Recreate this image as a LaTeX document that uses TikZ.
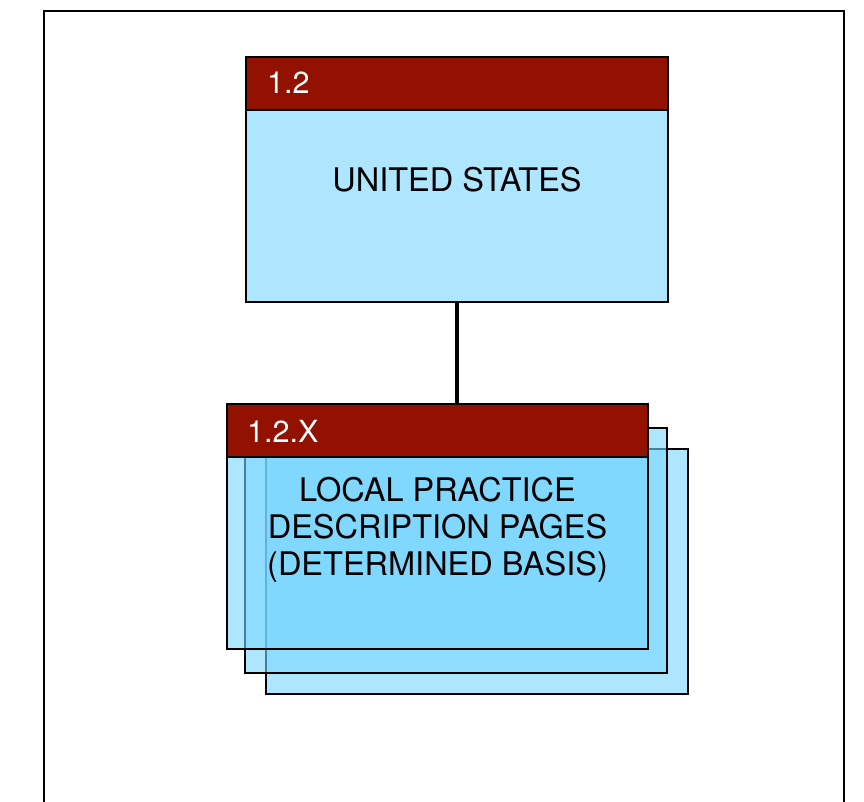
\documentclass[tikz,border=0pt]{standalone}
\usepackage{fontspec}
\setmainfont{TeX Gyre Heros}
\definecolor{hdrred}{RGB}{147,17,0}
\definecolor{boxblue}{RGB}{174,230,255}
\definecolor{layerblue}{RGB}{120,213,255}
\begin{document}
\begin{tikzpicture}[x=1pt,y=-1pt,
  boxbody/.style={draw=black,line width=2.4pt,inner sep=0pt,outer sep=0pt,
    anchor=north west,minimum width=#1,rectangle},
  hdr/.style={draw=black,line width=2.4pt,fill=hdrred,inner sep=0pt,outer sep=0pt,
    anchor=north west,minimum width=#1,minimum height=53pt,rectangle},
  hdrtxt/.style={text=white,font=\fontsize{30.5}{36}\selectfont,inner sep=0pt,anchor=base west},
  bodytxt/.style={text=black,font=\fontsize{32.5}{37.2}\selectfont,inner sep=0pt,align=center},
  link/.style={draw=black,line width=3.5pt}
]
\useasboundingbox (0,0) rectangle (864,801);
% outer frame
\draw[line width=2.4pt] (44,820) -- (44,11) -- (844,11) -- (844,820);

% top box
\node[boxbody=422pt,minimum height=245pt,fill=boxblue] (us) at (246,57) {};
\node[hdr=422pt] (ushead) at (246,57) {};
\node[hdrtxt] (usnum) at (267,93) {1.2};
\node[bodytxt,anchor=base] (ustxt) at (457,191) {UNITED STATES};

% stacked pages
\node[boxbody=422pt,minimum height=245pt,fill=layerblue,fill opacity=0.6] (back2) at (266,449) {};
\node[boxbody=422pt,minimum height=245pt,fill=layerblue,fill opacity=0.6] (back1) at (245,428) {};
\node[boxbody=421pt,minimum height=245pt,fill=layerblue,fill opacity=0.6] (front) at (227,404) {};
\node[hdr=421pt] (fronthead) at (227,404) {};
\node[hdrtxt] (frontnum) at (247,442) {1.2.X};
\node[bodytxt,anchor=center] (fronttxt) at (437.5,530) {LOCAL PRACTICE\\DESCRIPTION PAGES\\(DETERMINED BASIS)};

% connector
\draw[link] (us.south) -- (us.south |- fronthead.north);
\end{tikzpicture}
\end{document}
